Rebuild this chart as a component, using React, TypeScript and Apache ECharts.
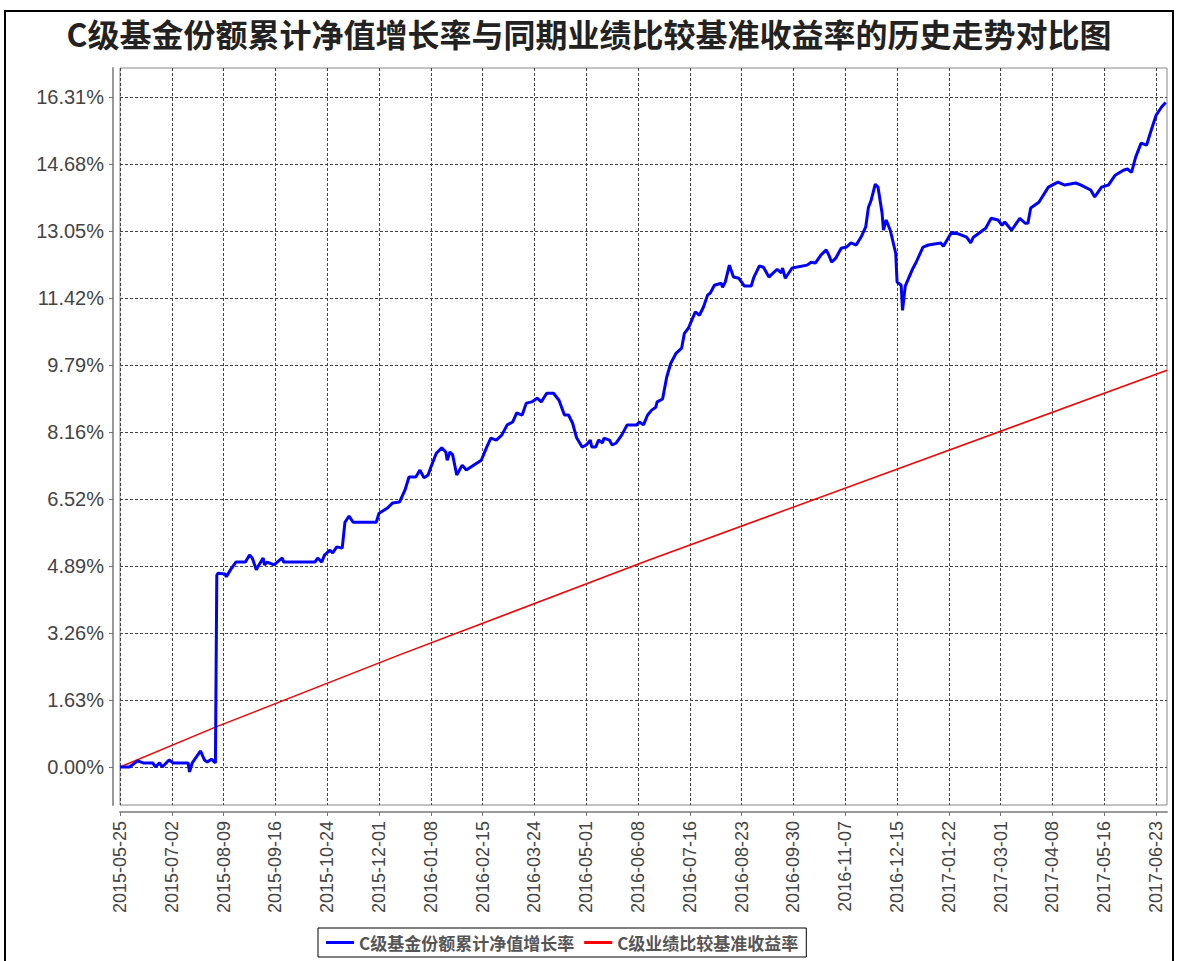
import React, { useEffect, useRef } from "react";
import * as echarts from "echarts";

const titleText = "C级基金份额累计净值增长率与同期业绩比较基准收益率的历史走势对比图";
const seriesNames = ["C级基金份额累计净值增长率", "C级业绩比较基准收益率"];

// x axis: days since 2015-05-25
const xTickDays = [0, 38, 76, 114, 152, 190, 228, 266, 304, 342, 380, 418, 456, 494, 532, 570, 608, 646, 684, 722, 760];
const xTickLabels = [
  "2015-05-25", "2015-07-02", "2015-08-09", "2015-09-16", "2015-10-24", "2015-12-01",
  "2016-01-08", "2016-02-15", "2016-03-24", "2016-05-01", "2016-06-08", "2016-07-16",
  "2016-08-23", "2016-09-30", "2016-11-07", "2016-12-15", "2017-01-22", "2017-03-01",
  "2017-04-08", "2017-05-16", "2017-06-23",
];

const yTickValues = [0, 1.631, 3.262, 4.893, 6.524, 8.155, 9.786, 11.417, 13.048, 14.679, 16.31];
const yTickLabels = ["0.00%", "1.63%", "3.26%", "4.89%", "6.52%", "8.16%", "9.79%", "11.42%", "13.05%", "14.68%", "16.31%"];

// [day, %]
const navSeries: [number, number][] = [
  [0, 0.0], [7, 0.0], [13, 0.15], [17, 0.1], [24, 0.1], [26, 0.0], [29, 0.1], [31, 0.0], [36, 0.17], [39, 0.1],
  [50, 0.1], [51, -0.12], [53, 0.1], [59, 0.39], [62, 0.17], [64, 0.12], [67, 0.19], [70, 0.1], [71, 4.67], [72, 4.72],
  [77, 4.7], [78, 4.63], [81, 4.8], [85, 4.99], [92, 4.99], [95, 5.16], [97, 5.09], [100, 4.8], [101, 4.87], [105, 5.09],
  [106, 4.92], [108, 4.99], [113, 4.92], [119, 5.09], [120, 4.99], [143, 4.99], [145, 5.09], [148, 4.99], [150, 5.16], [154, 5.28],
  [156, 5.21], [159, 5.36], [163, 5.33], [165, 5.96], [168, 6.11], [171, 5.96], [188, 5.96], [190, 6.18], [196, 6.3], [200, 6.43],
  [205, 6.45], [209, 6.74], [212, 7.06], [217, 7.06], [220, 7.23], [223, 7.04], [226, 7.11], [228, 7.3], [232, 7.64], [236, 7.77],
  [239, 7.67], [240, 7.47], [242, 7.67], [244, 7.6], [247, 7.11], [251, 7.35], [254, 7.23], [265, 7.47], [269, 7.79], [272, 8.01],
  [276, 7.96], [280, 8.08], [284, 8.33], [288, 8.4], [291, 8.62], [295, 8.57], [298, 8.86], [302, 8.89], [306, 8.98], [309, 8.89],
  [313, 9.1], [318, 9.1], [322, 8.93], [326, 8.57], [329, 8.57], [332, 8.37], [335, 8.01], [339, 7.79], [342, 7.84], [345, 7.96],
  [346, 7.79], [349, 7.79], [351, 7.96], [354, 7.89], [355, 8.01], [359, 7.96], [361, 7.84], [364, 7.89], [368, 8.08], [372, 8.33],
  [379, 8.33], [381, 8.4], [384, 8.33], [387, 8.57], [390, 8.69], [393, 8.76], [394, 8.89], [398, 8.96], [401, 9.49], [404, 9.83],
  [408, 10.08], [412, 10.2], [414, 10.56], [417, 10.69], [422, 11.08], [425, 11.0], [428, 11.2], [431, 11.49], [433, 11.54], [436, 11.73],
  [441, 11.78], [442, 11.68], [444, 11.81], [447, 12.22], [450, 11.93], [454, 11.9], [458, 11.71], [463, 11.71], [465, 11.93], [469, 12.2],
  [472, 12.17], [476, 11.93], [482, 12.12], [485, 12.03], [486, 12.15], [488, 11.9], [493, 12.15], [504, 12.22], [507, 12.29], [510, 12.27],
  [514, 12.46], [518, 12.59], [520, 12.46], [522, 12.29], [525, 12.39], [529, 12.63], [533, 12.66], [536, 12.76], [540, 12.71], [544, 12.93],
  [547, 13.15], [549, 13.63], [551, 13.8], [554, 14.19], [556, 14.12], [559, 13.49], [560, 13.07], [562, 13.32], [565, 13.07], [569, 12.51],
  [570, 11.81], [573, 11.73], [574, 11.12], [576, 11.71], [581, 12.1], [584, 12.29], [589, 12.66], [593, 12.71], [602, 12.76], [604, 12.68],
  [610, 13.02], [615, 12.98], [621, 12.9], [624, 12.76], [626, 12.9], [635, 13.12], [639, 13.36], [644, 13.32], [647, 13.19], [649, 13.27],
  [654, 13.07], [660, 13.36], [664, 13.24], [666, 13.24], [668, 13.61], [674, 13.75], [681, 14.12], [688, 14.24], [693, 14.17], [701, 14.22],
  [705, 14.17], [712, 14.05], [715, 13.88], [720, 14.12], [725, 14.17], [730, 14.41], [736, 14.53], [739, 14.56], [742, 14.48], [745, 14.85],
  [749, 15.19], [753, 15.14], [756, 15.46], [760, 15.87], [764, 16.07], [767, 16.18],
];

const benchSeries: [number, number][] = [
  [0, 0.0], [70, 0.97], [205, 2.73], [388, 5.04], [768, 9.66],
];

function labelFor(values: number[], labels: string[], v: number) {
  for (let i = 0; i < values.length; i++) {
    if (Math.abs(values[i] - v) < 1e-6) return labels[i];
  }
  return "";
}

export default function App() {
  const ref = useRef<HTMLDivElement>(null);
  useEffect(() => {
    if (!ref.current) return;
    const chart = echarts.init(ref.current, undefined, { renderer: "svg" });
    const gridLine = { show: true, lineStyle: { color: "#444", type: [3, 2] as any, width: 1 } };
    chart.setOption({
      animation: false,
      backgroundColor: "#fff",
      title: {
        text: titleText,
        left: "center",
        top: 17,
        padding: 0,
        textStyle: { fontSize: 32, fontWeight: "bold", color: "#222", fontFamily: "Noto Sans CJK SC" },
      },
      graphic: [
        {
          type: "rect",
          shape: { x: 5, y: 11, width: 1168, height: 990 },
          style: { fill: "none", stroke: "#000", lineWidth: 2 },
          silent: true,
        },
      ],
      legend: {
        left: 318,
        top: 928,
        padding: [6, 8, 6, 8],
        borderColor: "#000",
        borderWidth: 1,
        icon: "rect",
        itemWidth: 28,
        itemHeight: 3,
        itemGap: 10,
        textStyle: { fontSize: 17, fontWeight: "bold", color: "#555", fontFamily: "Noto Sans CJK SC" },
        data: seriesNames,
      },
      grid: {
        left: 120,
        right: 11,
        top: 68,
        bottom: 156,
        show: true,
        borderColor: "#888",
        borderWidth: 1,
        backgroundColor: "#fff",
      },
      xAxis: {
        type: "value",
        min: 0,
        max: 768,
        offset: 7,
        axisLine: { show: true, onZero: false, lineStyle: { color: "#999", width: 2 } },
        axisTick: { show: true, customValues: xTickDays, length: 4, lineStyle: { color: "#777" } },
        axisLabel: {
          customValues: xTickDays,
          rotate: 90,
          margin: 9,
          fontSize: 18,
          color: "#444",
          fontFamily: "Liberation Sans",
          formatter: (v: number) => labelFor(xTickDays, xTickLabels, v),
        },
        splitLine: gridLine,
      },
      yAxis: {
        type: "value",
        min: -0.925,
        max: 17.02,
        offset: 7,
        axisLine: { show: true, onZero: false, lineStyle: { color: "#999", width: 2 } },
        axisTick: { show: true, customValues: yTickValues, length: 4, lineStyle: { color: "#777" } },
        axisLabel: {
          customValues: yTickValues,
          margin: 9,
          fontSize: 20,
          color: "#444",
          fontFamily: "Liberation Sans",
          formatter: (v: number) => labelFor(yTickValues, yTickLabels, v),
        },
        splitLine: gridLine,
      },
      series: [
        {
          name: seriesNames[0],
          type: "line",
          data: navSeries,
          showSymbol: false,
          color: "#0000ff",
          lineStyle: { color: "#0000ff", width: 3 },
          z: 3,
        },
        {
          name: seriesNames[1],
          type: "line",
          data: benchSeries,
          showSymbol: false,
          color: "#ff0000",
          lineStyle: { color: "#ff0000", width: 1.5 },
          z: 2,
        },
      ],
    });
    return () => chart.dispose();
  }, []);
  return (
    <div
      ref={ref}
      style={{ position: "absolute", left: 0, top: 0, width: 1178, height: 961, background: "#fff" }}
    />
  );
}
